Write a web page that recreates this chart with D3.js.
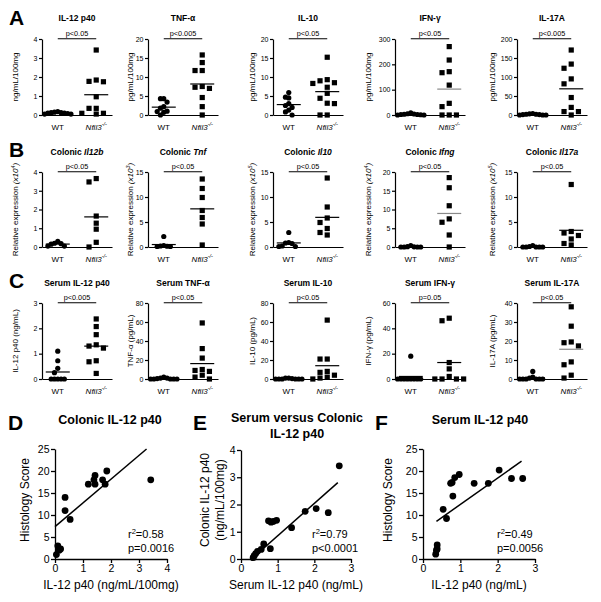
<!DOCTYPE html>
<html><head><meta charset="utf-8">
<script src="https://cdn.jsdelivr.net/npm/d3@7"></script>
<style>
body{margin:0;background:#fff}
svg{display:block}
text{font-family:"Liberation Sans",Arial,Helvetica,sans-serif;fill:#000}
</style>
</head><body>
<svg id="c" width="601" height="602"></svg>
<script>
// ---------------- DATA ----------------
const groups = ["WT", "Nfil3"];

// Row A (colon explant cytokines)
const aTitles = ["IL-12 p40", "TNF-α", "IL-10", "IFN-γ", "IL-17A"];
const aYLabels = ["ng/mL/100mg", "pg/mL/100mg", "pg/mL/100mg", "pg/mL/100mg", "pg/mL/100mg"];
const aPvals = ["p<0.05", "p<0.005", "p<0.05", "p<0.05", "p<0.005"];
const aMax = [4, 20, 20, 300, 200];
const aStep = [1, 5, 5, 100, 50];
const aWT = [
  [0.18, 0.15, 0.12, 0.1, 0.1, 0.08, 0.05, 0.05, 0.12],
  [4.3, 4.3, 3.4, 2.2, 1.8, 1.0, 0.9, 0.7, 0],
  [5.9, 4.7, 4.5, 3.0, 2.5, 2.0, 1.3, 0.8, 0],
  [8, 5, 4, 3, 2, 2, 1, 0, 0],
  [4, 3, 2, 2, 1, 1, 0, 0, 0]
];
const aKO = [
  [3.42, 1.84, 1.75, 1.77, 0.96, 0.35, 0.35, 0.09, 0.05, 0.09],
  [15.8, 13.8, 11.7, 11.7, 7.5, 7.3, 7.0, 4.6, 2.2, 0],
  [15.2, 9.3, 9.0, 8.5, 8.3, 7.3, 5.7, 4.4, 3.1, 3.0, 0, 0],
  [270, 217, 171, 167, 118, 46, 33, 0, 0, 0],
  [171, 134, 123, 95, 82, 46, 20, 9, 9, 0]
];

// Row B (colonic mRNA)
const bGenes = ["Il12b", "Tnf", "Il10", "Ifng", "Il17a"];
const bExp = ["4", "3", "5", "4", "5"];
const bPvals = ["p<0.05", "p<0.05", "p<0.05", "p<0.05", "p<0.05"];
const bMax = [4, 15, 15, 20, 15];
const bStep = [1, 5, 5, 5, 5];
const bWT = [
  [0.3, 0.2, 0.18, 0.15, 0.05, 0.05],
  [2.1, 0.3, 0.2, 0.15, 0.1, 0.1],
  [2.9, 0.9, 0.8, 0.7, 0.2, 0.1, 0.1],
  [0.4, 0.1, 0.05, 0, 0, 0, 0],
  [0.3, 0.1, 0, 0, 0, 0, 0]
];
const bKO = [
  [3.65, 3.47, 1.65, 1.27, 0.95, 0.25, 0],
  [13.6, 11.7, 9.9, 7.3, 5.9, 4.6, 0.4],
  [13.8, 8.0, 5.8, 4.9, 3.7, 2.4, 2.9],
  [18.5, 15.8, 11.0, 7.5, 6.6, 3.2, 0],
  [12.5, 3.1, 2.8, 2.3, 1.6, 0.7, 0.4]
];

// Row C (serum)
const cTitles = ["Serum IL-12 p40", "Serum TNF-α", "Serum IL-10", "Serum IFN-γ", "Serum IL-17A"];
const cYLabels = ["IL-12 p40 (ng/mL)", "TNF-α (pg/mL)", "IL-10 (pg/mL)", "IFN-γ (pg/mL)", "IL-17A (pg/mL)"];
const cPvals = ["p<0.005", "p<0.05", "p<0.05", "p=0.05", "p<0.05"];
const cMax = [3, 80, 80, 60, 40];
const cStep = [1, 20, 20, 20, 10];
const cWT = [
  [1.1, 0.72, 0.42, 0.25, 0, 0, 0, 0, 0],
  [2, 1, 1, 0.5, 0, 0, 0, 0, 0],
  [1, 1, 0.5, 0, 0, 0, 0, 0, 0],
  [18, 0, 0, 0, 0, 0, 0, 0, 0],
  [4, 1, 0.5, 0, 0, 0, 0, 0, 0]
];
const cKO = [
  [2.37, 2.07, 1.75, 1.35, 1.3, 1.22, 0.72, 0.68, 0.22],
  [59, 32, 22, 10, 9, 8, 4, 2, 0],
  [62, 21, 21, 8, 7, 4, 2, 1, 0],
  [48, 46, 13, 8, 2, 0, 0, 0, 0],
  [38, 27.8, 19.5, 19.1, 17.4, 9, 7.5, 2, 0.5]
];

// Correlation panels
const dX = [0.05, 0.1, 0.15, 0.2, 0.36, 0.36, 0.54, 1.19, 1.39, 1.43, 1.43, 1.7, 1.79, 1.85, 3.42];
const dY = [1, 3, 2, 2.3, 14, 11, 9, 17, 18, 19, 17, 18, 17, 20, 18];
const eX = [0.33, 0.36, 0.4, 0.45, 0.55, 0.62, 0.8, 0.75, 0.82, 0.88, 0.97, 1.38, 1.75, 2.05, 2.38, 2.68];
const eY = [0.05, 0.12, 0.2, 0.28, 0.35, 0.55, 0.38, 1.4, 1.35, 1.38, 1.42, 1.15, 1.75, 1.85, 1.7, 3.42];
const fX = [0.34, 0.38, 0.38, 0.36, 0.54, 0.63, 0.74, 0.78, 0.85, 0.8, 0.97, 1.37, 1.75, 2.04, 2.37, 2.67];
const fY = [1.1, 2.3, 3.2, 2, 11.3, 9.2, 17.2, 17.4, 18.5, 14.3, 19.2, 17.2, 17.2, 20.2, 18.3, 18.3];
// fitted lines: [intercept, slope, xFrom, xTo]
const fitD = [7.35, 5.4, 0, 3.27];
const fitE = [-0.34, 1.19, 0.33, 2.64];
const fitF = [6.4, 6.0, 0.36, 2.64];
const statsD = ["0.58", "p=0.0016"];
const statsE = ["0.79", "p<0.0001"];
const statsF = ["0.49", "p=0.0056"];

// ---------------- LAYOUT ----------------
const svg = d3.select("#c");
const colAxisX = [42, 148, 273, 395, 517];
const colLabX = [15, 130, 252, 368, 492];
const rows = [
  {top: 39, bottom: 115, titleY: 21, letter: "A", letterY: 25},
  {top: 172, bottom: 247, titleY: 155, letter: "B", letterY: 157},
  {top: 303, bottom: 379, titleY: 286, letter: "C", letterY: 288}
];
const grayLine = "#8a8a8a";
const intFmt = d => String(d);

function swarm(vals, y, cx, step, thr) {
  const placed = [];
  const sorted = vals.slice().sort((a, b) => b - a);
  const offs = [0];
  for (let j = 1; j < 12; j++) offs.push(-j * step, j * step);
  return sorted.map(v => {
    const py = y(v);
    let px = cx;
    for (const off of offs) {
      px = cx + off;
      if (!placed.some(p => Math.abs(p.y - py) < thr && Math.abs(p.x - px) < step * 0.99)) break;
    }
    placed.push({x: px, y: py});
    return {x: px, y: py};
  });
}

function styleAxis(g, fs, sw) {
  g.selectAll("path.domain").attr("stroke", "#000").attr("stroke-width", sw);
  g.selectAll(".tick line").attr("stroke", "#000").attr("stroke-width", sw);
  g.selectAll(".tick text").attr("font-size", fs).attr("font-family", "Liberation Sans, Arial, sans-serif").attr("fill", "#000");
}

function smallPanel(row, col, max, step, wt, ko, pval, titleFn, ylabFn, koColor) {
  const R = rows[row];
  const ax = colAxisX[col];
  const y = d3.scaleLinear().domain([0, max]).range([R.bottom, R.top]);
  const x = d3.scalePoint().domain(groups).range([ax, ax + 70]).padding(0.41);

  const ya = svg.append("g").attr("transform", `translate(${ax},0)`)
    .call(d3.axisLeft(y).tickValues(d3.range(0, max + 1e-9, step)).tickFormat(intFmt)
      .tickSize(3).tickSizeOuter(0).tickPadding(1.5));
  styleAxis(ya, 7, 1.2);
  const xa = svg.append("g").attr("transform", `translate(0,${R.bottom})`)
    .call(d3.axisBottom(x).tickSize(0).tickSizeOuter(0).tickFormat(""));
  styleAxis(xa, 7, 1.2);

  // x labels
  svg.append("text").attr("x", x("WT")).attr("y", R.bottom + 14.5).attr("text-anchor", "middle")
    .attr("font-size", 8).text("WT");
  const t = svg.append("text").attr("x", x("Nfil3")).attr("y", R.bottom + 14.5).attr("text-anchor", "middle")
    .attr("font-size", 8).attr("font-style", "italic");
  t.append("tspan").text("Nfil3");
  t.append("tspan").attr("font-size", 5.5).attr("dy", -3.2).text("-/-");

  // title
  titleFn(svg.append("text").attr("x", ax + 35).attr("y", R.titleY).attr("text-anchor", "middle")
    .attr("font-size", 8.5).attr("font-weight", "bold"));

  // y label
  ylabFn(svg.append("text").attr("transform", `translate(${colLabX[col]},${(R.top + R.bottom) / 2}) rotate(-90)`)
    .attr("text-anchor", "middle").attr("dy", "0.35em").attr("font-size", 8));

  // significance bar
  const by = R.top - 0.3;
  svg.append("line").attr("x1", x("WT")).attr("x2", x("Nfil3")).attr("y1", by).attr("y2", by)
    .attr("stroke", "#000").attr("stroke-width", 1.1);
  svg.append("text").attr("x", (x("WT") + x("Nfil3")) / 2).attr("y", by - 3).attr("text-anchor", "middle")
    .attr("font-size", 7.3).attr("fill", "#000").text(pval);

  // points
  const wp = swarm(wt, y, x("WT"), 3.3, 5);
  svg.append("g").selectAll("circle").data(wp).join("circle")
    .attr("cx", d => d.x).attr("cy", d => d.y).attr("r", 2.6).attr("fill", "#000");
  const kp = swarm(ko, y, x("Nfil3"), 7.2, 5.4);
  const s = 5.2;
  svg.append("g").selectAll("rect").data(kp).join("rect")
    .attr("x", d => d.x - s / 2).attr("y", d => d.y - s / 2).attr("width", s).attr("height", s).attr("fill", "#000");

  // mean lines
  [[wt, "WT", "#000"], [ko, "Nfil3", koColor]].forEach(([vals, g, c]) => {
    const m = d3.mean(vals);
    svg.append("line").attr("x1", x(g) - 12).attr("x2", x(g) + 12).attr("y1", y(m)).attr("y2", y(m))
      .attr("stroke", c).attr("stroke-width", 1.2);
  });
}

// panel letters
rows.forEach(R => {
  svg.append("text").attr("x", 9).attr("y", R.letterY).attr("font-size", 21).attr("font-weight", "bold").text(R.letter);
});

// Row A
for (let i = 0; i < 5; i++) {
  smallPanel(0, i, aMax[i], aStep[i], aWT[i], aKO[i], aPvals[i],
    t => t.text(aTitles[i]),
    t => t.text(aYLabels[i]),
    i === 3 ? grayLine : "#000");
}
// Row B
for (let i = 0; i < 5; i++) {
  smallPanel(1, i, bMax[i], bStep[i], bWT[i], bKO[i], bPvals[i],
    t => { t.append("tspan").text("Colonic "); t.append("tspan").attr("font-style", "italic").text(bGenes[i]); },
    t => {
      t.append("tspan").text("Relative expression ");
      t.append("tspan").attr("font-style", "italic").text("(x10");
      t.append("tspan").attr("font-style", "italic").attr("font-size", 5.5).attr("dy", -3).text(bExp[i]);
      t.append("tspan").attr("font-style", "italic").attr("dy", 3).text(")");
    },
    i === 3 ? grayLine : "#000");
}
// Row C
for (let i = 0; i < 5; i++) {
  smallPanel(2, i, cMax[i], cStep[i], cWT[i], cKO[i], cPvals[i],
    t => t.text(cTitles[i]),
    t => t.text(cYLabels[i]),
    i === 4 ? grayLine : "#000");
}

// ---------------- Correlation panels ----------------
function corrPanel(cfg) {
  const x = d3.scaleLinear().domain([0, cfg.xMax]).range([cfg.left, cfg.right]);
  const y = d3.scaleLinear().domain([0, cfg.yMax]).range([cfg.bottom, cfg.top]);
  const ya = svg.append("g").attr("transform", `translate(${cfg.left},0)`)
    .call(d3.axisLeft(y).tickValues(cfg.yTicks).tickFormat(intFmt).tickSize(4).tickSizeOuter(0).tickPadding(1.5));
  styleAxis(ya, 10.5, 1.3);
  const xa = svg.append("g").attr("transform", `translate(0,${cfg.bottom})`)
    .call(d3.axisBottom(x).tickValues(cfg.xTicks).tickFormat(intFmt).tickSize(4).tickSizeOuter(0).tickPadding(1.5));
  styleAxis(xa, 10.5, 1.3);

  svg.append("text").attr("x", cfg.letterX).attr("y", 430).attr("font-size", 21).attr("font-weight", "bold").text(cfg.letter);
  cfg.title.forEach((s, k) => {
    svg.append("text").attr("x", cfg.titleX).attr("y", cfg.titleY + k * 16).attr("text-anchor", "middle")
      .attr("font-size", 12.5).attr("font-weight", "bold").text(s);
  });
  svg.append("text").attr("x", (cfg.left + cfg.right) / 2).attr("y", 589).attr("text-anchor", "middle")
    .attr("font-size", 12).text(cfg.xLabel);
  cfg.yLabel.forEach((s, k) => {
    svg.append("text").attr("transform", `translate(${cfg.yLabX[k]},${cfg.yLabY}) rotate(-90)`)
      .attr("text-anchor", "middle").attr("dy", "0.35em").attr("font-size", 12).text(s);
  });

  const [b0, b1, x0, x1] = cfg.fit;
  svg.append("line").attr("x1", x(x0)).attr("y1", y(b0 + b1 * x0)).attr("x2", x(x1)).attr("y2", y(b0 + b1 * x1))
    .attr("stroke", "#000").attr("stroke-width", 1.5);

  svg.append("g").selectAll("circle").data(cfg.xs.map((v, i) => [v, cfg.ys[i]])).join("circle")
    .attr("cx", d => x(d[0])).attr("cy", d => y(d[1])).attr("r", 3.4).attr("fill", "#000");

  const r2 = svg.append("text").attr("x", cfg.statX).attr("y", 538).attr("font-size", 11);
  r2.append("tspan").text("r");
  r2.append("tspan").attr("font-size", 7.5).attr("dy", -4).text("2");
  r2.append("tspan").attr("dy", 4).text("=" + cfg.stats[0]);
  svg.append("text").attr("x", cfg.statX).attr("y", 552).attr("font-size", 11).text(cfg.stats[1]);
}

corrPanel({left: 55, right: 167, top: 449, bottom: 559, xMax: 4, yMax: 25,
  xTicks: [0, 1, 2, 3, 4], yTicks: [0, 5, 10, 15, 20, 25],
  letter: "D", letterX: 8, title: ["Colonic IL-12 p40"], titleX: 110, titleY: 424,
  xLabel: "IL-12 p40 (ng/mL/100mg)", yLabel: ["Histology Score"], yLabX: [25], yLabY: 500,
  xs: dX, ys: dY, fit: fitD, stats: statsD, statX: 128});

corrPanel({left: 241, right: 351, top: 450, bottom: 559, xMax: 3, yMax: 4,
  xTicks: [0, 1, 2, 3], yTicks: [0, 1, 2, 3, 4],
  letter: "E", letterX: 193, title: ["Serum versus Colonic", "IL-12 p40"], titleX: 297, titleY: 422,
  xLabel: "Serum IL-12 p40 (ng/mL)", yLabel: ["Colonic IL-12 p40", "(ng/mL/100mg)"], yLabX: [205, 220], yLabY: 500,
  xs: eX, ys: eY, fit: fitE, stats: statsE, statX: 312});

corrPanel({left: 423, right: 535, top: 449, bottom: 559, xMax: 3, yMax: 25,
  xTicks: [0, 1, 2, 3], yTicks: [0, 5, 10, 15, 20, 25],
  letter: "F", letterX: 375, title: ["Serum IL-12 p40"], titleX: 480, titleY: 424,
  xLabel: "IL-12 p40 (ng/mL)", yLabel: ["Histology Score"], yLabX: [388], yLabY: 500,
  xs: fX, ys: fY, fit: fitF, stats: statsF, statX: 497});
</script>
</body></html>
